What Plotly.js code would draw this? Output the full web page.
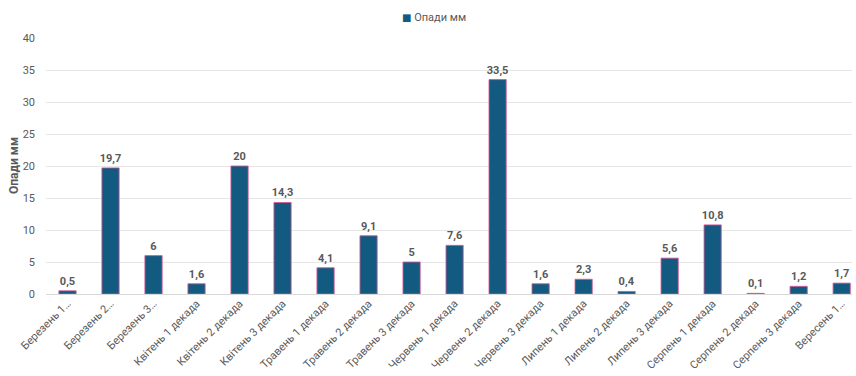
<!DOCTYPE html>
<html>
<head>
<meta charset="utf-8">
<script src="https://cdn.plot.ly/plotly-3.0.1.min.js"></script>
<style>
  html, body { margin: 0; padding: 0; background: #ffffff; }
  #chart { width: 856px; height: 376px; }
</style>
</head>
<body>
<div id="chart"></div>
<script>
// Ten-day periods (декади), March to September
const categories = [
  'Березень 1 декада', 'Березень 2 декада', 'Березень 3 декада',
  'Квітень 1 декада', 'Квітень 2 декада', 'Квітень 3 декада',
  'Травень 1 декада', 'Травень 2 декада', 'Травень 3 декада',
  'Червень 1 декада', 'Червень 2 декада', 'Червень 3 декада',
  'Липень 1 декада', 'Липень 2 декада', 'Липень 3 декада',
  'Серпень 1 декада', 'Серпень 2 декада', 'Серпень 3 декада',
  'Вересень 1 декада'
];

// Axis labels as displayed (long ones shortened)
const tickLabels = [
  'Березень 1…', 'Березень 2…', 'Березень 3…',
  'Квітень 1 декада', 'Квітень 2 декада', 'Квітень 3 декада',
  'Травень 1 декада', 'Травень 2 декада', 'Травень 3 декада',
  'Червень 1 декада', 'Червень 2 декада', 'Червень 3 декада',
  'Липень 1 декада', 'Липень 2 декада', 'Липень 3 декада',
  'Серпень 1 декада', 'Серпень 2 декада', 'Серпень 3 декада',
  'Вересень 1…'
];

// Precipitation, mm
const precipitation = [
  0.5, 19.7, 6, 1.6, 20, 14.3, 4.1, 9.1, 5, 7.6,
  33.5, 1.6, 2.3, 0.4, 5.6, 10.8, 0.1, 1.2, 1.7
];

const seriesName = 'Опади мм';
const yAxisTitle = 'Опади мм';
const yTickValues = [0, 5, 10, 15, 20, 25, 30, 35, 40];

const barColor = '#125a80';
const textGray = '#595959';
const fontFamily = 'Roboto, "Open Sans", "DejaVu Sans", sans-serif';

const trace = {
  type: 'bar',
  name: seriesName,
  x: categories.map((_, i) => i),
  y: precipitation,
  marker: {
    color: barColor,
    line: { color: 'rgba(214, 86, 150, 0.85)', width: 1 }
  },
  texttemplate: '%{y}',
  textposition: 'outside',
  constraintext: 'none',
  cliponaxis: false,
  textfont: { family: fontFamily, size: 11, color: textGray, weight: 'bold' },
  showlegend: false,
  hoverinfo: 'x+y'
};

const layout = {
  width: 856,
  height: 376,
  margin: { l: 46, r: 4, t: 38, b: 82 },
  paper_bgcolor: '#ffffff',
  plot_bgcolor: '#ffffff',
  separators: ', ',
  bargap: 0.6,
  font: { family: fontFamily, size: 11, color: textGray },
  showlegend: false,
  annotations: [
    // compact series key above the plot
    {
      xref: 'paper', yref: 'paper',
      x: 0.481, y: 1.082,
      xanchor: 'center', yanchor: 'middle',
      showarrow: false,
      text: '<span style="color:' + barColor + ';font-size:10px">■</span> ' + seriesName,
      font: { family: fontFamily, size: 11, color: textGray }
    },
    // value-axis title
    {
      xref: 'paper', yref: 'paper',
      x: -0.0397, y: 0.5,
      xanchor: 'center', yanchor: 'middle',
      textangle: -90,
      showarrow: false,
      text: '<b>' + yAxisTitle + '</b>',
      font: { family: fontFamily, size: 12, color: textGray }
    }
  ],
  xaxis: {
    tickmode: 'array',
    tickvals: categories.map((_, i) => i),
    ticktext: tickLabels,
    tickangle: -45,
    range: [-0.5, 18.24],
    showgrid: false,
    zeroline: false,
    showline: false,
    ticks: '',
    automargin: false,
    tickfont: { family: fontFamily, size: 11, color: textGray }
  },
  yaxis: {
    range: [0, 40],
    tickmode: 'array',
    tickvals: yTickValues,
    showgrid: true,
    gridcolor: '#e6e6e6',
    gridwidth: 1,
    zeroline: true,
    zerolinecolor: '#d9d9d9',
    zerolinewidth: 1,
    showline: false,
    ticks: '',
    ticklabelstandoff: 10,
    automargin: false,
    tickfont: { family: fontFamily, size: 11, color: textGray }
  }
};

Plotly.newPlot('chart', [trace], layout, { displayModeBar: false, staticPlot: true });
</script>
</body>
</html>
